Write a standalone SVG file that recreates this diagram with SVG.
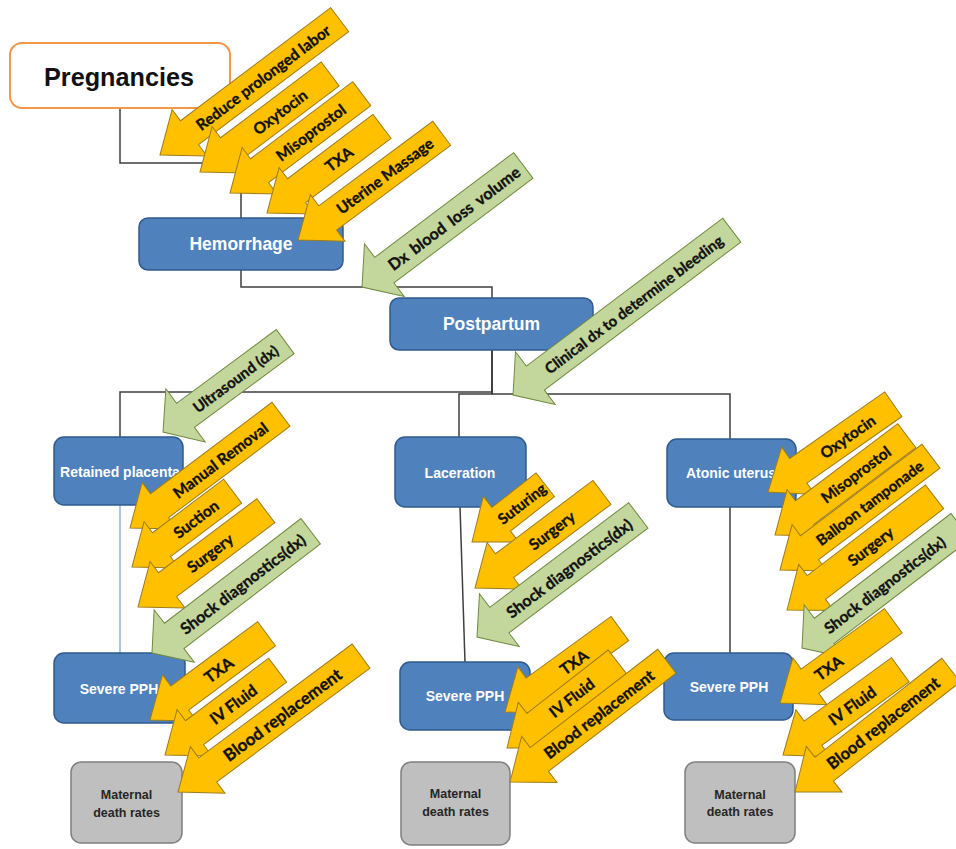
<svg xmlns="http://www.w3.org/2000/svg" width="956" height="849" viewBox="0 0 956 849">
<style>
.bg{fill:#ffffff}
.con{fill:none;stroke:#3f3f3f;stroke-width:1.5}
.con2{fill:none;stroke:#8db3e2;stroke-width:1.5}
.blue{fill:#4f81bd;stroke:#2f5b8e;stroke-width:1.5}
.gray{fill:#bfbfbf;stroke:#7f7f7f;stroke-width:1.5}
.preg{fill:#ffffff;stroke:#f79646;stroke-width:2}
.nt{font-family:"Liberation Sans",Arial,sans-serif;font-weight:bold;fill:#ffffff;text-anchor:middle;dominant-baseline:central}
.mt{font-family:"Liberation Sans",Arial,sans-serif;font-weight:bold;fill:#262626;text-anchor:middle;dominant-baseline:central;font-size:12.5px}
.y{fill:#ffc000;stroke:#9c7c1c;stroke-width:1}
.g{fill:#c3d69b;stroke:#6f8a3f;stroke-width:1}
.lbl{font-family:Lato,"Open Sans",sans-serif;font-weight:bold;fill:#111111;stroke:#111111;stroke-width:0.35;text-anchor:middle;dominant-baseline:central}
</style>
<rect class="bg" x="0" y="0" width="956" height="849"/>

<g id="connectors">
<path class="con" d="M120,108 V163 H241 V218"/>
<path class="con" d="M241,270 V287 H492 V298"/>
<path class="con" d="M492,350 V392 H120 V437"/>
<path class="con" d="M492,350 V394 H459 V437"/>
<path class="con" d="M492,350 V394 H730 V439"/>
<path class="con2" d="M120,505 V653"/>
<path class="con" d="M460,507 L465,662"/>
<path class="con" d="M730,507 V653"/>
</g>

<g id="pregnancies"><rect class="preg" x="10" y="43" width="220" height="65" rx="12"/><text x="119" y="77" font-family="Liberation Sans, Arial, sans-serif" font-weight="bold" font-size="26" text-anchor="middle" dominant-baseline="central" textLength="150" lengthAdjust="spacingAndGlyphs" fill="#111">Pregnancies</text></g>
<g id="hemorrhage"><rect class="blue" x="139" y="218" width="204" height="52" rx="9"/><text class="nt" x="241" y="244" font-size="17.5">Hemorrhage</text></g>
<g id="postpartum"><rect class="blue" x="390" y="298" width="203" height="52" rx="9"/><text class="nt" x="491.5" y="324" font-size="17.5">Postpartum</text></g>
<g id="retained-placenta"><rect class="blue" x="54" y="437" width="129" height="68" rx="10"/><text class="nt" x="120" y="472" font-size="14">Retained placenta</text></g>
<g id="laceration"><rect class="blue" x="395" y="437" width="131" height="70" rx="10"/><text class="nt" x="460" y="473" font-size="14">Laceration</text></g>
<g id="atonic-uterus"><rect class="blue" x="667" y="439" width="129" height="68" rx="10"/><text class="nt" x="731" y="473" font-size="14">Atonic uterus</text></g>
<g id="severe-pph-1"><rect class="blue" x="54" y="653" width="131" height="70" rx="10"/><text class="nt" x="119" y="689" font-size="14">Severe PPH</text></g>
<g id="severe-pph-2"><rect class="blue" x="400" y="662" width="130" height="68" rx="10"/><text class="nt" x="465" y="696" font-size="14">Severe PPH</text></g>
<g id="severe-pph-3"><rect class="blue" x="664" y="653" width="129" height="67" rx="10"/><text class="nt" x="729" y="687" font-size="14">Severe PPH</text></g>
<g id="maternal-1"><rect class="gray" x="71" y="762" width="111" height="81" rx="10"/><text class="mt" x="126.5" y="795">Maternal</text><text class="mt" x="126.5" y="813">death rates</text></g>
<g id="maternal-2"><rect class="gray" x="401" y="762" width="109" height="83" rx="10"/><text class="mt" x="455.5" y="794">Maternal</text><text class="mt" x="455.5" y="812">death rates</text></g>
<g id="maternal-3"><rect class="gray" x="685" y="762" width="110" height="81" rx="10"/><text class="mt" x="740" y="795">Maternal</text><text class="mt" x="740" y="812">death rates</text></g>

<!-- top cluster -->
<g id="a-reduce" transform="translate(160,155) rotate(-37)"><polygon class="y" points="0,0 37,-29 37,-15 225,-15 225,15 37,15 37,29"/><text class="lbl" x="129" y="0" font-size="15.5">Reduce prolonged labor</text></g>
<g id="a-oxytocin-1" transform="translate(200,172) rotate(-37)"><polygon class="y" points="0,0 37,-29 37,-15 163,-15 163,15 37,15 37,29"/><text class="lbl" x="100" y="0" font-size="15.5">Oxytocin</text></g>
<g id="a-misoprostol-1" transform="translate(230,193) rotate(-37)"><polygon class="y" points="0,0 37,-29 37,-15 165,-15 165,15 37,15 37,29"/><text class="lbl" x="101" y="0" font-size="15.5">Misoprostol</text></g>
<g id="a-txa-1" transform="translate(267,213) rotate(-37)"><polygon class="y" points="0,0 37,-29 37,-15 144,-15 144,15 37,15 37,29"/><text class="lbl" x="90" y="0" font-size="15.5">TXA</text></g>
<g id="a-uterine" transform="translate(298,240) rotate(-36.6)"><polygon class="y" points="0,0 37,-29 37,-15 179,-15 179,15 37,15 37,29"/><text class="lbl" x="108" y="0" font-size="15.5">Uterine Massage</text></g>
<g id="a-dx-blood" transform="translate(362,287) rotate(-37)"><polygon class="g" points="0,0 28,-33 28,-16 202,-16 202,16 28,16 28,33"/><text class="lbl" x="115" y="0" font-size="16" word-spacing="3">Dx blood loss volume</text></g>
<g id="a-clinical" transform="translate(513,395) rotate(-37)"><polygon class="g" points="0,0 28,-33 28,-15 274,-15 274,15 28,15 28,33"/><text class="lbl" x="151" y="0" font-size="15">Clinical dx to determine bleeding</text></g>
<g id="a-ultrasound" transform="translate(163,432) rotate(-36.5)"><polygon class="g" points="0,0 28,-33 28,-15 152,-15 152,15 28,15 28,33"/><text class="lbl" x="90" y="0" font-size="15">Ultrasound (dx)</text></g>

<!-- left column -->
<g id="a-manual" transform="translate(130,528) rotate(-37)"><polygon class="y" points="0,0 37,-29 37,-15 189,-15 189,15 37,15 37,29"/><text class="lbl" x="113" y="0" font-size="15.5">Manual Removal</text></g>
<g id="a-suction" transform="translate(132,567) rotate(-37)"><polygon class="y" points="0,0 37,-29 37,-15 126,-15 126,15 37,15 37,29"/><text class="lbl" x="80" y="0" font-size="15.5">Suction</text></g>
<g id="a-surgery-1" transform="translate(138,607) rotate(-37)"><polygon class="y" points="0,0 37,-29 37,-15 160,-15 160,15 37,15 37,29"/><text class="lbl" x="90" y="0" font-size="15.5">Surgery</text></g>
<g id="a-shock-1" transform="translate(152,653) rotate(-37.5)"><polygon class="g" points="0,0 28,-33 28,-16 200,-16 200,16 28,16 28,33"/><text class="lbl" x="114" y="0" font-size="16">Shock diagnostics(dx)</text></g>
<g id="a-txa-2" transform="translate(150,720) rotate(-36.5)"><polygon class="y" points="0,0 37,-29 37,-15 145,-15 145,15 37,15 37,29"/><text class="lbl" x="85" y="0" font-size="16">TXA</text></g>
<g id="a-iv-1" transform="translate(165,755) rotate(-37)"><polygon class="y" points="0,0 37,-29 37,-15 141,-15 141,15 37,15 37,29"/><text class="lbl" x="85" y="0" font-size="16">IV Fluid</text></g>
<g id="a-blood-1" transform="translate(178,792) rotate(-36.6)"><polygon class="y" points="0,0 37,-29 37,-15 228,-15 228,15 37,15 37,29"/><text class="lbl" x="130" y="0" font-size="17">Blood replacement</text></g>

<!-- middle column -->
<g id="a-suturing" transform="translate(472,542) rotate(-38)"><polygon class="y" points="0,0 37,-29 37,-15 93,-15 93,15 37,15 37,29"/><text class="lbl" x="63" y="0" font-size="15">Suturing</text></g>
<g id="a-surgery-2" transform="translate(475,588) rotate(-37)"><polygon class="y" points="0,0 37,-29 37,-15 159,-15 159,15 37,15 37,29"/><text class="lbl" x="96" y="0" font-size="15.5">Surgery</text></g>
<g id="a-shock-2" transform="translate(477,637) rotate(-37)"><polygon class="g" points="0,0 28,-33 28,-16 202,-16 202,16 28,16 28,33"/><text class="lbl" x="115" y="0" font-size="16">Shock diagnostics(dx)</text></g>
<g id="a-txa-3" transform="translate(505,712) rotate(-36)"><polygon class="y" points="0,0 37,-29 37,-15 142,-15 142,15 37,15 37,29"/><text class="lbl" x="85" y="0" font-size="15.5">TXA</text></g>
<g id="a-iv-2" transform="translate(507,748) rotate(-38)"><polygon class="y" points="0,0 37,-29 37,-15 140,-15 140,15 37,15 37,29"/><text class="lbl" x="82" y="0" font-size="15.5">IV Fluid</text></g>
<g id="a-blood-2" transform="translate(510,782) rotate(-37.6)"><polygon class="y" points="0,0 37,-29 37,-15 198,-15 198,15 37,15 37,29"/><text class="lbl" x="112" y="0" font-size="16">Blood replacement</text></g>

<!-- right column -->
<g id="a-oxytocin-2" transform="translate(768,492) rotate(-35)"><polygon class="y" points="0,0 37,-29 37,-15 153,-15 153,15 37,15 37,29"/><text class="lbl" x="97" y="0" font-size="15.5">Oxytocin</text></g>
<g id="a-misoprostol-2" transform="translate(775,535) rotate(-37)"><polygon class="y" points="0,0 37,-29 37,-15 165,-15 165,15 37,15 37,29"/><text class="lbl" x="101" y="0" font-size="15.5">Misoprostol</text></g>
<g id="a-balloon" transform="translate(780,570) rotate(-37)"><polygon class="y" points="0,0 37,-29 37,-15 189,-15 189,15 37,15 37,29"/><text class="lbl" x="112" y="0" font-size="15">Balloon tamponade</text></g>
<g id="a-surgery-3" transform="translate(787,610) rotate(-37.5)"><polygon class="y" points="0,0 37,-29 37,-15 186,-15 186,15 37,15 37,29"/><text class="lbl" x="105" y="0" font-size="15.5">Surgery</text></g>
<g id="a-shock-3" transform="translate(802,648) rotate(-37.5)"><polygon class="g" points="0,0 28,-33 28,-16 200,-16 200,16 28,16 28,33"/><text class="lbl" x="104" y="0" font-size="15.5">Shock diagnostics(dx)</text></g>
<g id="a-txa-4" transform="translate(780,703) rotate(-36)"><polygon class="y" points="0,0 37,-29 37,-15 140,-15 140,15 37,15 37,29"/><text class="lbl" x="60" y="0" font-size="15.5">TXA</text></g>
<g id="a-iv-3" transform="translate(783,755) rotate(-36)"><polygon class="y" points="0,0 37,-29 37,-15 145,-15 145,15 37,15 37,29"/><text class="lbl" x="85" y="0" font-size="16">IV Fluid</text></g>
<g id="a-blood-3" transform="translate(795,792) rotate(-38)"><polygon class="y" points="0,0 37,-29 37,-15 198,-15 198,15 37,15 37,29"/><text class="lbl" x="112" y="0" font-size="16.5">Blood replacement</text></g>
</svg>
